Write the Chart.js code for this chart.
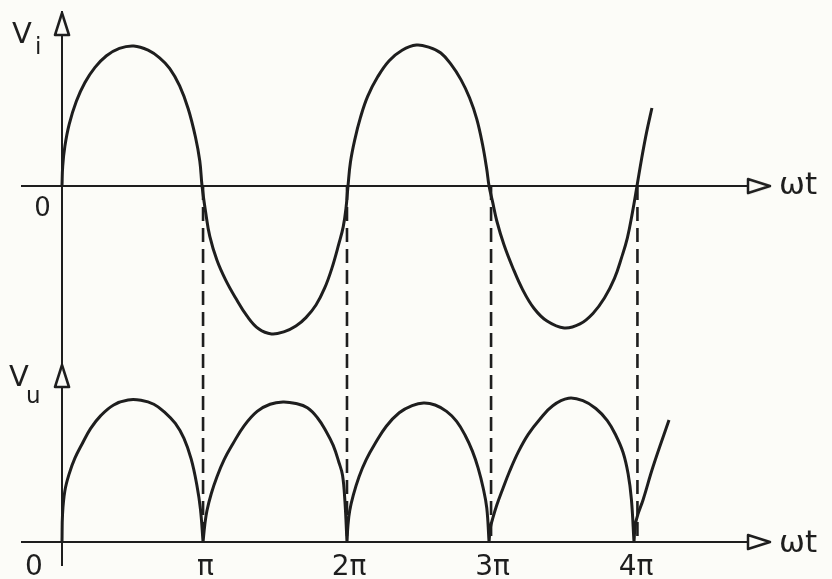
<!DOCTYPE html>
<html lang="it">
<head>
<meta charset="UTF-8" />
<title>Vi / Vu - raddrizzatore a doppia semionda</title>
<style>
    html, body { margin: 0; padding: 0; background: #fcfcf8; }
    .wrap { width: 832px; height: 579px; position: relative; }
</style>
</head>
<body>
<div class="wrap"><canvas id="chart"></canvas></div>
<script src="https://cdn.jsdelivr.net/npm/chart.js@4"></script>
<script>
// Vi: x in units of pi, y in units of the peak
const viX = [0, 0.005, 0.02, 0.05, 0.10, 0.16, 0.23, 0.31, 0.40, 0.50, 0.60, 0.68, 0.75, 0.82, 0.88, 0.93, 0.96, 0.976,
    1.00, 1.03, 1.08, 1.14, 1.21, 1.29, 1.37, 1.46, 1.55, 1.63, 1.70, 1.77, 1.83, 1.88, 1.93, 1.96, 1.98, 1.993,
    2.01, 2.04, 2.08, 2.13, 2.20, 2.28, 2.37, 2.47, 2.56, 2.64, 2.71, 2.78, 2.84, 2.89, 2.93, 2.96, 2.976,
    3.00, 3.03, 3.08, 3.14, 3.21, 3.29, 3.38, 3.50, 3.61, 3.70, 3.78, 3.85, 3.90, 3.94, 3.975, 4.007,
    4.04, 4.075, 4.111];
const viY = [0, 0.142, 0.283, 0.44, 0.605, 0.739, 0.847, 0.930, 0.983, 1.0, 0.97, 0.915, 0.84, 0.715, 0.55, 0.35, 0.18, 0,
    -0.18, -0.36, -0.53, -0.67, -0.80, -0.93, -1.02, -1.057, -1.04, -1.0, -0.94, -0.85, -0.73, -0.59, -0.41, -0.29, -0.15, 0,
    0.17, 0.33, 0.49, 0.64, 0.78, 0.895, 0.97, 1.007, 0.99, 0.95, 0.87, 0.76, 0.63, 0.48, 0.30, 0.12, 0,
    -0.11, -0.25, -0.42, -0.58, -0.74, -0.875, -0.965, -1.014, -0.985, -0.91, -0.80, -0.66, -0.51, -0.37, -0.19, 0,
    0.20, 0.39, 0.557];

// Vu (rectified); a null splits the arches at each cusp
const vuX = [0, 0.004, 0.02, 0.05, 0.09, 0.14, 0.20, 0.27, 0.36, 0.46, 0.55, 0.64, 0.72, 0.79, 0.85, 0.90, 0.94, 0.965, 0.983,
    0.983,
    0.983, 0.995, 1.01, 1.04, 1.08, 1.13, 1.19, 1.27, 1.36, 1.45, 1.54, 1.63, 1.71, 1.78, 1.84, 1.89, 1.93, 1.955, 1.972, 1.986,
    1.986,
    1.986, 1.993, 2.005, 2.03, 2.07, 2.12, 2.18, 2.26, 2.35, 2.44, 2.52, 2.60, 2.68, 2.75, 2.81, 2.86, 2.90, 2.935, 2.96, 2.976,
    2.976,
    2.976, 2.985, 3.0, 3.03, 3.07, 3.12, 3.18, 3.25, 3.33, 3.42, 3.53, 3.63, 3.72, 3.80, 3.86, 3.91, 3.945, 3.968, 3.986,
    3.986,
    3.986, 3.995, 4.015, 4.049, 4.118, 4.23];
const vuY = [0, 0.2, 0.36, 0.48, 0.59, 0.69, 0.80, 0.89, 0.965, 1.0, 0.998, 0.97, 0.91, 0.835, 0.73, 0.585, 0.40, 0.23, 0,
    null,
    0, 0.12, 0.22, 0.34, 0.46, 0.58, 0.69, 0.82, 0.92, 0.97, 0.986, 0.975, 0.945, 0.875, 0.78, 0.68, 0.56, 0.47, 0.28, 0,
    null,
    0, 0.12, 0.22, 0.33, 0.46, 0.58, 0.69, 0.815, 0.91, 0.96, 0.979, 0.965, 0.92, 0.85, 0.75, 0.64, 0.52, 0.38, 0.24, 0,
    null,
    0, 0.1, 0.16, 0.26, 0.37, 0.5, 0.635, 0.76, 0.865, 0.96, 1.012, 0.995, 0.94, 0.855, 0.75, 0.63, 0.48, 0.30, 0,
    null,
    0, 0.12, 0.2, 0.296, 0.528, 0.859];

// zero crossings of Vi carried down as dashed guides
const crossings = [0.983, 1.986, 2.99, 4.01];

const tickValues = [0, 1, 2, 3, 4];
const tickLabels = ['0\u2003\u2003', 'π', '2π', '3π', '4π'];
const topZeroLabel = '0\u2003\u2002';

// axis ranges
const xMin = -0.2787, xMax = 4.9338;
const viMin = -2.7071, viMax = 1.2429;
const vuMin = -0.162, vuMax = 3.7324;
const xArrow = 4.857, viArrow = 1.157, vuArrow = 1.169;

const ink = '#1e1e1e';
const paper = '#fcfcf8';
const family = '"DejaVu Sans", sans-serif';

// vi = 0 expressed on the vu axis (both axes span the same chart area)
const viZeroOnVu = vuMin + (0 - viMin) / (viMax - viMin) * (vuMax - vuMin);

function makeArrow() {
    const c = document.createElement('canvas');
    c.width = 28;
    c.height = 20;
    const g = c.getContext('2d');
    g.fillStyle = paper;
    g.strokeStyle = ink;
    g.lineWidth = 2.5;
    g.lineJoin = 'round';
    g.beginPath();
    g.moveTo(3, 3);
    g.lineTo(25, 10);
    g.lineTo(3, 17);
    g.closePath();
    g.fill();
    g.stroke();
    return c;
}
const arrow = makeArrow();

const toPoints = (xs, ys) => xs.map((x, i) => ({ x: x, y: ys[i] }));
const dashPoints = [];
crossings.forEach(c => {
    dashPoints.push({ x: c, y: viZeroOnVu }, { x: c, y: 0 }, { x: c, y: null });
});

// axis names, placed from the scales
const axisNames = {
    id: 'axisNames',
    afterDraw(chart) {
        const { ctx, chartArea } = chart;
        const { x, vi, vu } = chart.scales;
        const ax = x.getPixelForValue(0);
        ctx.save();
        ctx.fillStyle = ink;
        ctx.textBaseline = 'alphabetic';
        ctx.textAlign = 'left';

        ctx.font = '31px ' + family;
        ctx.fillText('ωt', chartArea.right + 9, vi.getPixelForValue(0) + 8);
        ctx.fillText('ωt', chartArea.right + 9, vu.getPixelForValue(0) + 10);

        const topY = vi.getPixelForValue(viArrow);
        const botY = vu.getPixelForValue(vuArrow);
        ctx.font = '29px ' + family;
        ctx.fillText('V', ax - 50, topY + 19);
        ctx.fillText('V', ax - 53, botY + 10);
        ctx.font = '23px ' + family;
        ctx.fillText('i', ax - 27, topY + 30);
        ctx.fillText('u', ax - 36, botY + 27);
        ctx.restore();
    }
};

const ctx = document.getElementById('chart').getContext('2d');

new Chart(ctx, {
    type: 'scatter',
    data: {
        datasets: [
            {
                label: 'Vi',
                data: toPoints(viX, viY),
                xAxisID: 'x',
                yAxisID: 'vi',
                showLine: true,
                borderColor: ink,
                borderWidth: 3,
                pointRadius: 0,
                tension: 0.4
            },
            {
                label: 'Vu',
                data: toPoints(vuX, vuY),
                xAxisID: 'x',
                yAxisID: 'vu',
                showLine: true,
                spanGaps: false,
                borderColor: ink,
                borderWidth: 3,
                pointRadius: 0,
                tension: 0.4
            },
            {
                label: 'guide',
                data: dashPoints,
                xAxisID: 'x',
                yAxisID: 'vu',
                showLine: true,
                spanGaps: false,
                borderColor: ink,
                borderWidth: 2.6,
                borderDash: [14, 7],
                pointRadius: 0
            },
            {
                label: 'arrows-vi',
                data: [{ x: xArrow, y: 0 }, { x: 0, y: viArrow }],
                xAxisID: 'x',
                yAxisID: 'vi',
                pointStyle: arrow,
                rotation: [0, -90],
                pointRadius: 10,
                clip: false
            },
            {
                label: 'arrows-vu',
                data: [{ x: xArrow, y: 0 }, { x: 0, y: vuArrow }],
                xAxisID: 'x',
                yAxisID: 'vu',
                pointStyle: arrow,
                rotation: [0, -90],
                pointRadius: 10,
                clip: false
            }
        ]
    },
    options: {
        responsive: true,
        maintainAspectRatio: false,
        animation: false,
        events: [],
        layout: { padding: { left: 22, right: 62, top: 12, bottom: 14 } },
        plugins: {
            legend: { display: false },
            tooltip: { enabled: false }
        },
        scales: {
            x: {
                type: 'linear',
                axis: 'x',
                min: xMin,
                max: xMax,
                position: { vu: 0 },
                grid: { display: false, drawTicks: false },
                border: { display: true, color: ink, width: 2 },
                afterBuildTicks: s => { s.ticks = tickValues.map(v => ({ value: v })); },
                afterFit: s => { s.height = 0; },
                ticks: {
                    padding: 9,
                    maxRotation: 0,
                    autoSkip: false,
                    color: ink,
                    font: { family: family, size: 28 },
                    callback: (v, i) => tickLabels[i]
                }
            },
            x2: {
                type: 'linear',
                axis: 'x',
                min: xMin,
                max: xMax,
                position: { vi: 0 },
                grid: { display: false, drawTicks: false },
                border: { display: true, color: ink, width: 2 },
                afterBuildTicks: s => { s.ticks = [{ value: 0 }]; },
                afterFit: s => { s.height = 0; },
                ticks: {
                    padding: 8,
                    maxRotation: 0,
                    autoSkip: false,
                    color: ink,
                    font: { family: family, size: 26 },
                    callback: () => topZeroLabel
                }
            },
            vi: {
                type: 'linear',
                axis: 'y',
                min: viMin,
                max: viMax,
                position: { x: 0 },
                grid: { display: false, drawTicks: false },
                border: { display: true, color: ink, width: 2 },
                ticks: { display: false },
                afterFit: s => { s.width = 0; }
            },
            vu: {
                type: 'linear',
                axis: 'y',
                min: vuMin,
                max: vuMax,
                display: false
            }
        }
    },
    plugins: [axisNames]
});
</script>
</body>
</html>
